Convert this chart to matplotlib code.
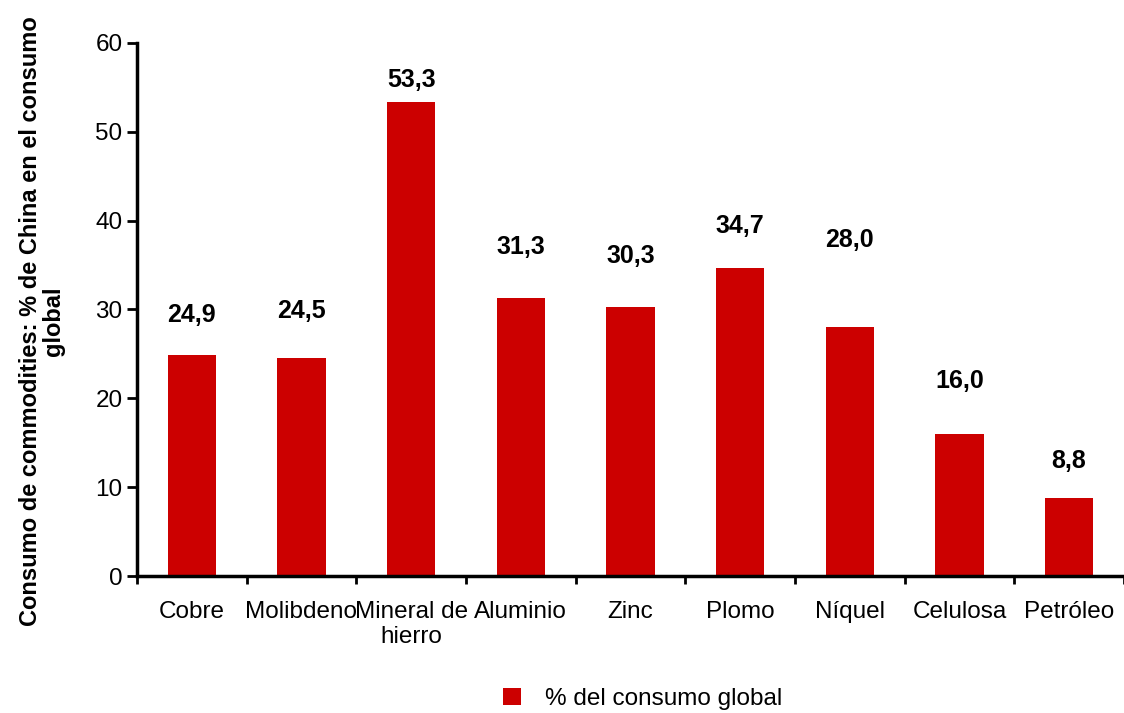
import numpy as np
import matplotlib.pyplot as plt

plt.rcParams['font.family'] = ['Liberation Sans', 'DejaVu Sans']

# data
categorias = ["Cobre", "Molibdeno", "Mineral de\nhierro", "Aluminio", "Zinc",
              "Plomo", "Níquel", "Celulosa", "Petróleo"]
valores = [24.9, 24.5, 53.3, 31.3, 30.3, 34.7, 28.0, 16.0, 8.8]
etiquetas = ["24,9", "24,5", "53,3", "31,3", "30,3", "34,7", "28,0", "16,0", "8,8"]
# altura de cada etiqueta (en unidades del eje), como en el original
altura_etiqueta = [29.4, 29.8, 55.8, 37.0, 36.0, 39.4, 37.8, 22.0, 12.9]

rojo = "#CC0000"

fig = plt.figure(figsize=(11.24, 7.13), dpi=100)
ax = fig.add_axes([0.1219, 0.192, 0.878, 0.748])

x = np.arange(len(categorias))
ax.bar(x, valores, width=0.44, color=rojo, label="% del consumo global")

for xi, h, t in zip(x, altura_etiqueta, etiquetas):
    ax.text(xi, h, t, ha="center", va="center", fontsize=18, fontweight="bold")

ax.set_xlim(-0.5, len(categorias) - 0.5)
ax.set_ylim(0, 60)
ax.set_yticks(range(0, 61, 10))
ax.tick_params(axis="y", labelsize=17.5, width=2, length=7, direction="out")

ax.set_xticks(x)
ax.set_xticklabels(categorias, fontsize=17.5, linespacing=1.15)
ax.tick_params(axis="x", which="major", length=0, pad=18)
ax.set_xticks(np.arange(-0.5, len(categorias)), minor=True)
ax.tick_params(axis="x", which="minor", length=6, width=2, direction="out")

for s in ["top", "right"]:
    ax.spines[s].set_visible(False)
for s in ["left", "bottom"]:
    ax.spines[s].set_linewidth(2.5)

ax.set_ylabel("Consumo de commodities: % de China en el consumo\nglobal",
              fontsize=17, fontweight="bold", linespacing=1.0)
ax.yaxis.set_label_coords(-0.073, 0.478)

fig.legend(loc="center", bbox_to_anchor=(0.5716, 0.02), frameon=False,
           fontsize=17.5, handlelength=0.75, handleheight=0.75, handletextpad=1.0)

fig.savefig("out.png", dpi=100)
